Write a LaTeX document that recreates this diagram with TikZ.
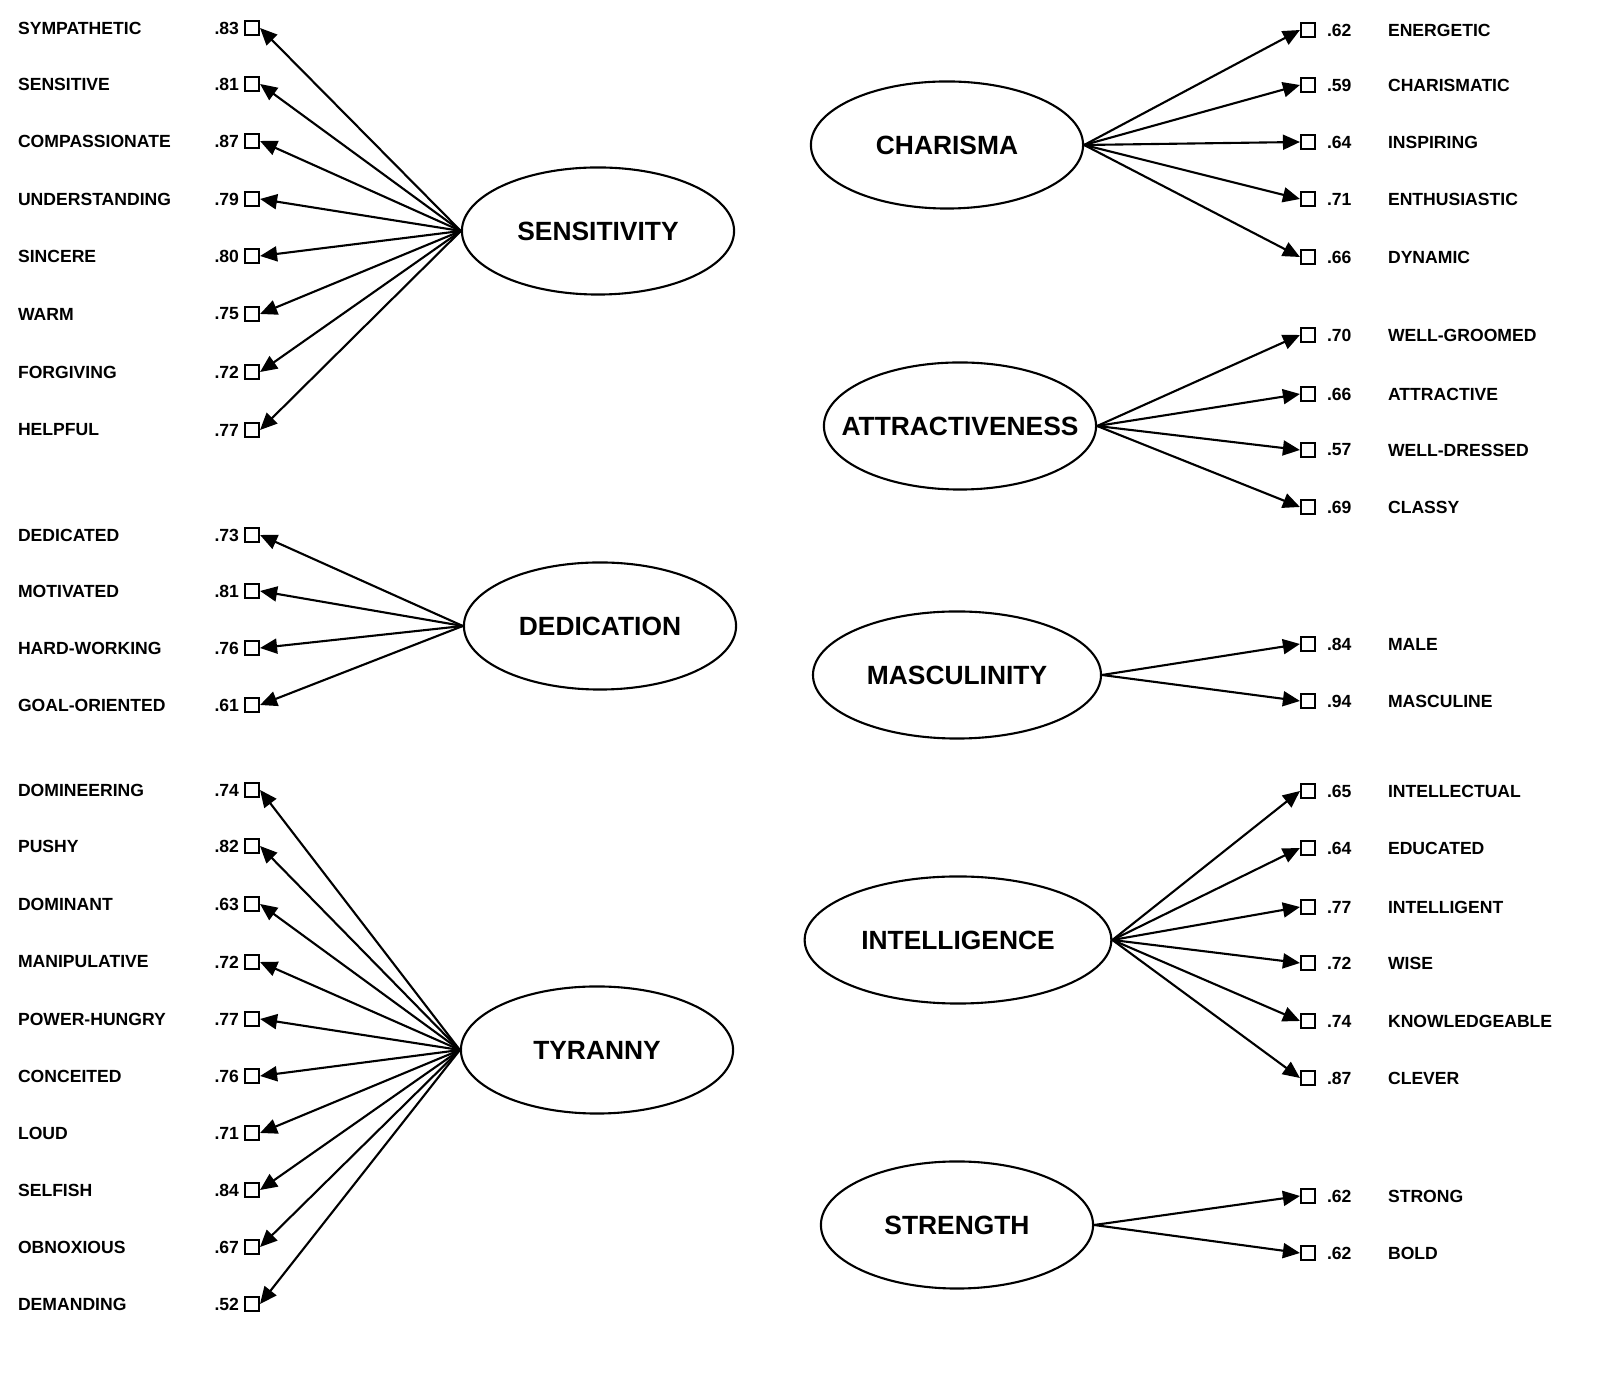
\documentclass[tikz,border=0pt]{standalone}
\usepackage{fontspec}
\setmainfont{Liberation Sans}
\usetikzlibrary{arrows.meta,shapes.geometric}
\tikzset{
  factor/.style={draw, ellipse, minimum width=2.72cm, minimum height=1.27cm, font=\bfseries\fontsize{7.5}{8}\selectfont},
  item/.style={draw, minimum size=0.14cm, inner sep=0pt},
  lbl/.style={font=\bfseries\fontsize{5}{6}\selectfont, inner sep=0pt},
  load/.style={-{Triangle[length=1.7mm,width=1.5mm]}, semithick}
}
\begin{document}
\begin{tikzpicture}[x=0.01cm, y=-0.01cm, line width=0.6pt]
\useasboundingbox (0,0) rectangle (1614,1386);

% Factors on the left
\node[factor] (sens) at (598,231) {SENSITIVITY};
\node[factor] (dedi) at (600,626) {DEDICATION};
\node[factor] (tyra) at (597,1050) {TYRANNY};

% Factors on the right
\node[factor] (char) at (947,145) {CHARISMA};
\node[factor, inner xsep=-0.26cm] (attr) at (960,426) {ATTRACTIVENESS};
\node[factor] (masc) at (957,675) {MASCULINITY};
\node[factor] (inte) at (958,940) {INTELLIGENCE};
\node[factor] (stre) at (957,1225) {STRENGTH};

% Left items
\foreach \f/\y/\v/\t [count=\i] in {
  sens/28/.83/SYMPATHETIC, sens/84/.81/SENSITIVE, sens/141/.87/COMPASSIONATE,
  sens/199/.79/UNDERSTANDING, sens/256/.80/SINCERE, sens/314/.75/WARM,
  sens/372/.72/FORGIVING, sens/430/.77/HELPFUL,
  dedi/535/.73/DEDICATED, dedi/591/.81/MOTIVATED, dedi/648/.76/HARD-WORKING,
  dedi/705/.61/GOAL-ORIENTED,
  tyra/790/.74/DOMINEERING, tyra/846/.82/PUSHY, tyra/904/.63/DOMINANT,
  tyra/962/.72/MANIPULATIVE, tyra/1019/.77/POWER-HUNGRY, tyra/1076/.76/CONCEITED,
  tyra/1133/.71/LOUD, tyra/1190/.84/SELFISH, tyra/1247/.67/OBNOXIOUS,
  tyra/1304/.52/DEMANDING} {
  \node[item] (l\i) at (252,\y) {};
  \node[lbl, anchor=east] (lv\i) at (240,\y) {\v};
  \node[lbl, anchor=west] (lt\i) at (17,\y) {\t};
  \draw[load] (\f.west) -- (l\i.east);
}

% Right items
\foreach \f/\y/\v/\t [count=\i] in {
  char/30/.62/ENERGETIC, char/85/.59/CHARISMATIC, char/142/.64/INSPIRING,
  char/199/.71/ENTHUSIASTIC, char/257/.66/DYNAMIC,
  attr/335/.70/WELL-GROOMED, attr/394/.66/ATTRACTIVE, attr/450/.57/WELL-DRESSED,
  attr/507/.69/CLASSY,
  masc/644/.84/MALE, masc/701/.94/MASCULINE,
  inte/791/.65/INTELLECTUAL, inte/848/.64/EDUCATED, inte/907/.77/INTELLIGENT,
  inte/963/.72/WISE, inte/1021/.74/KNOWLEDGEABLE, inte/1078/.87/CLEVER,
  stre/1196/.62/STRONG, stre/1253/.62/BOLD} {
  \node[item] (r\i) at (1308,\y) {};
  \node[lbl, anchor=west] (rv\i) at (1326,\y) {\v};
  \node[lbl, anchor=west] (rt\i) at (1387,\y) {\t};
  \draw[load] (\f.east) -- (r\i.west);
}
\end{tikzpicture}
\end{document}
